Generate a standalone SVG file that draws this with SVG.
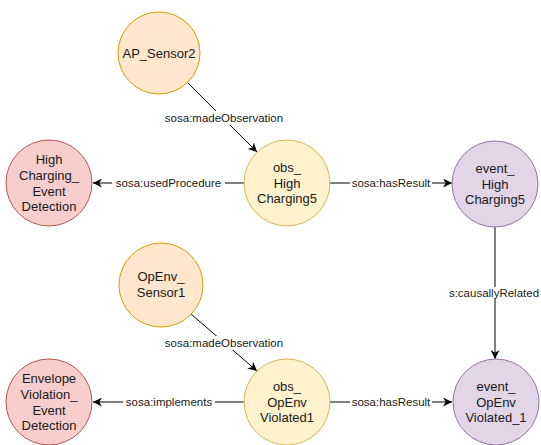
<svg xmlns="http://www.w3.org/2000/svg" width="541" height="445" viewBox="0 0 541 445">
  <style>
    .node { stroke-width: 1; }
    .sensor { fill: #ffe6cc; stroke: #d79b00; }
    .obs { fill: #fff2cc; stroke: #d6b656; }
    .proc { fill: #f8cecc; stroke: #b85450; }
    .event { fill: #e1d5e7; stroke: #9673a6; }
    .ntext { font-family: "Liberation Sans", Arial, sans-serif; font-size: 13px; fill: #1a1a1a; text-anchor: middle; }
    .edge { stroke: #000; stroke-width: 1; fill: none; }
    .elabel { font-family: "Liberation Sans", Arial, sans-serif; font-size: 11.5px; fill: #1a1a1a; text-anchor: middle; dominant-baseline: central; }
    .lbg { fill: #fff; }
  </style>
  <defs>
    <marker id="arrow" viewBox="0 0 10 10" refX="10" refY="5" markerWidth="9" markerHeight="9" markerUnits="userSpaceOnUse" orient="auto">
      <path d="M0,0 L10,5 L0,10 L3,5 Z" fill="#000"/>
    </marker>
  </defs>

  <!-- connectors -->
  <g id="connectors">
    <line class="edge" x1="188" y1="83" x2="257" y2="152" marker-end="url(#arrow)"/>
    <rect class="lbg" x="162" y="111" width="124" height="14"/>
    <text class="elabel" x="224" y="118">sosa:madeObservation</text>

    <line class="edge" x1="244" y1="183" x2="93" y2="183" marker-end="url(#arrow)"/>
    <rect class="lbg" x="112" y="176" width="113" height="14"/>
    <text class="elabel" x="168.5" y="183">sosa:usedProcedure</text>

    <line class="edge" x1="330" y1="183" x2="452" y2="183" marker-end="url(#arrow)"/>
    <rect class="lbg" x="350" y="176" width="82" height="14"/>
    <text class="elabel" x="391" y="183">sosa:hasResult</text>

    <line class="edge" x1="495" y1="227" x2="495" y2="359" marker-end="url(#arrow)"/>
    <rect class="lbg" x="445" y="287" width="96" height="12"/>
    <text class="elabel" x="494" y="293">s:causallyRelated</text>

    <line class="edge" x1="191" y1="314" x2="257" y2="371" marker-end="url(#arrow)"/>
    <rect class="lbg" x="162" y="336" width="124" height="14"/>
    <text class="elabel" x="224" y="343">sosa:madeObservation</text>

    <line class="edge" x1="244" y1="402" x2="93" y2="402" marker-end="url(#arrow)"/>
    <rect class="lbg" x="123" y="395" width="92" height="14"/>
    <text class="elabel" x="169" y="402">sosa:implements</text>

    <line class="edge" x1="330" y1="402" x2="452" y2="402" marker-end="url(#arrow)"/>
    <rect class="lbg" x="350" y="395" width="82" height="14"/>
    <text class="elabel" x="391" y="402">sosa:hasResult</text>
  </g>

  <!-- nodes -->
  <g id="ap-sensor2">
    <circle class="node sensor" cx="159" cy="53" r="41"/>
    <text class="ntext" x="159" y="57.5">AP_Sensor2</text>
  </g>
  <g id="high-charging-event-detection">
    <circle class="node proc" cx="49" cy="183" r="43"/>
    <text class="ntext" x="49" y="164">High</text>
    <text class="ntext" x="49" y="180">Charging_</text>
    <text class="ntext" x="49" y="195.5">Event</text>
    <text class="ntext" x="49" y="211">Detection</text>
  </g>
  <g id="obs-high-charging5">
    <circle class="node obs" cx="287" cy="183" r="43"/>
    <text class="ntext" x="287" y="172">obs_</text>
    <text class="ntext" x="287" y="187.5">High</text>
    <text class="ntext" x="287" y="203">Charging5</text>
  </g>
  <g id="event-high-charging5">
    <circle class="node event" cx="495" cy="184" r="43"/>
    <text class="ntext" x="495" y="173">event_</text>
    <text class="ntext" x="495" y="188.5">High</text>
    <text class="ntext" x="495" y="204">Charging5</text>
  </g>
  <g id="openv-sensor1">
    <circle class="node sensor" cx="161" cy="285" r="42"/>
    <text class="ntext" x="161" y="281">OpEnv_</text>
    <text class="ntext" x="161" y="296.5">Sensor1</text>
  </g>
  <g id="envelope-violation-event-detection">
    <circle class="node proc" cx="49" cy="402" r="43"/>
    <text class="ntext" x="49" y="383">Envelope</text>
    <text class="ntext" x="49" y="399">Violation_</text>
    <text class="ntext" x="49" y="414.5">Event</text>
    <text class="ntext" x="49" y="430">Detection</text>
  </g>
  <g id="obs-openv-violated1">
    <circle class="node obs" cx="287" cy="402" r="43"/>
    <text class="ntext" x="287" y="391">obs_</text>
    <text class="ntext" x="287" y="406.5">OpEnv</text>
    <text class="ntext" x="287" y="422">Violated1</text>
  </g>
  <g id="event-openv-violated-1">
    <circle class="node event" cx="496" cy="402" r="43"/>
    <text class="ntext" x="496" y="391">event_</text>
    <text class="ntext" x="496" y="406.5">OpEnv</text>
    <text class="ntext" x="496" y="422">Violated_1</text>
  </g>
</svg>
